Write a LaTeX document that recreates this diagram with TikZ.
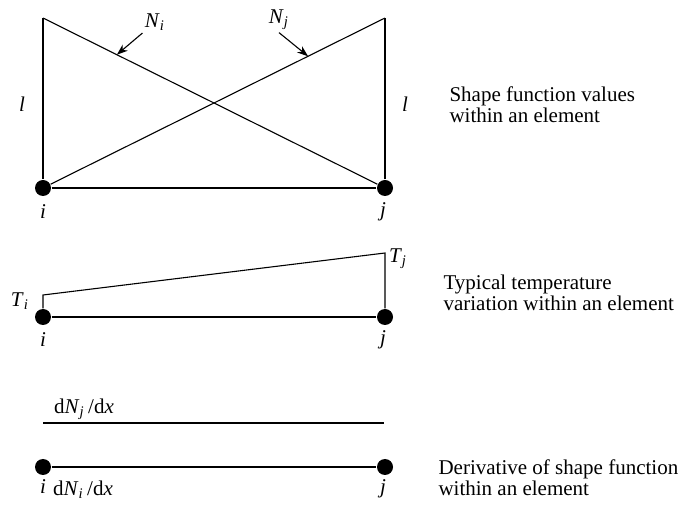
\documentclass[tikz,border=0pt]{standalone}
\usepackage{fontspec}
\setmainfont{Liberation Serif}
\usepackage{tikz}
\usetikzlibrary{calc, arrows.meta}

\newcommand{\var}[2]{\textit{#1}\textsubscript{\textit{#2}}}

\begin{document}
\begin{tikzpicture}[x=0.5pt, y=-0.5pt, line width=0.55pt,
  noeud/.style={circle, fill=black, inner sep=0pt, minimum size=8pt},
  etiq/.style={font=\fontsize{10.5}{9.5}\selectfont, inner sep=1pt},
  texte/.style={etiq, align=left, anchor=west},
  fleche/.style={-{Stealth[length=5.5pt, width=4pt]}}]
  \useasboundingbox (0,0) rectangle (680,507);
  % Fonctions de forme
  \node[noeud] (i1) at (43,188) {};
  \node[noeud] (j1) at (385,188) {};
  \coordinate (hg) at (43,18);
  \coordinate (hd) at (385,18);
  \draw (hg) -- (i1) -- (j1) -- (hd);
  \draw (hg) -- (j1);
  \draw (i1) -- (hd);
  \node[etiq] (li) at (22,104) {\textit{l}};
  \node[etiq] (lj) at (405,104) {\textit{l}};
  \node[etiq] (ni) at (155,22) {\var{N}{i}};
  \node[etiq] (nj) at (279,20) {\var{N}{j}};
  \draw[fleche] (ni.south west) -- ($(hg)!0.216!(j1)$);
  \draw[fleche] (nj.south) -- ($(i1)!0.775!(hd)$);
  \node[etiq] at (43,212) {\textit{i}};
  \node[etiq] at (383,212) {\textit{j}};
  \node[texte] at (447,105) {Shape function values\\within an element};
  % Température
  \node[noeud] (i2) at (43,317) {};
  \node[noeud] (j2) at (385,317) {};
  \coordinate (ti) at (43,295);
  \coordinate (tj) at (385,253);
  \draw (i2) -- (ti) -- (tj) -- (j2);
  \draw (i2) -- (j2);
  \node[etiq] at (20,301) {\var{T}{i}};
  \node[etiq] at (398,259) {\var{T}{j}};
  \node[etiq] at (43,340) {\textit{i}};
  \node[etiq] at (383,340) {\textit{j}};
  \node[texte] at (441,293) {Typical temperature\\variation within an element};
  % Dérivées
  \coordinate (dg) at (43,423);
  \coordinate (dd) at (384,423);
  \draw (dg) -- (dd);
  \node[etiq] at (84,409) {d\var{N}{j}\,/d\textit{x}};
  \node[noeud] (i3) at (43,467) {};
  \node[noeud] (j3) at (385,467) {};
  \draw (i3) -- (j3);
  \node[etiq] at (43,487) {\textit{i}};
  \node[etiq] at (83,490) {d\var{N}{i}\,/d\textit{x}};
  \node[etiq] at (383,489) {\textit{j}};
  \node[texte] at (436,478) {Derivative of shape function\\within an element};
\end{tikzpicture}
\end{document}
